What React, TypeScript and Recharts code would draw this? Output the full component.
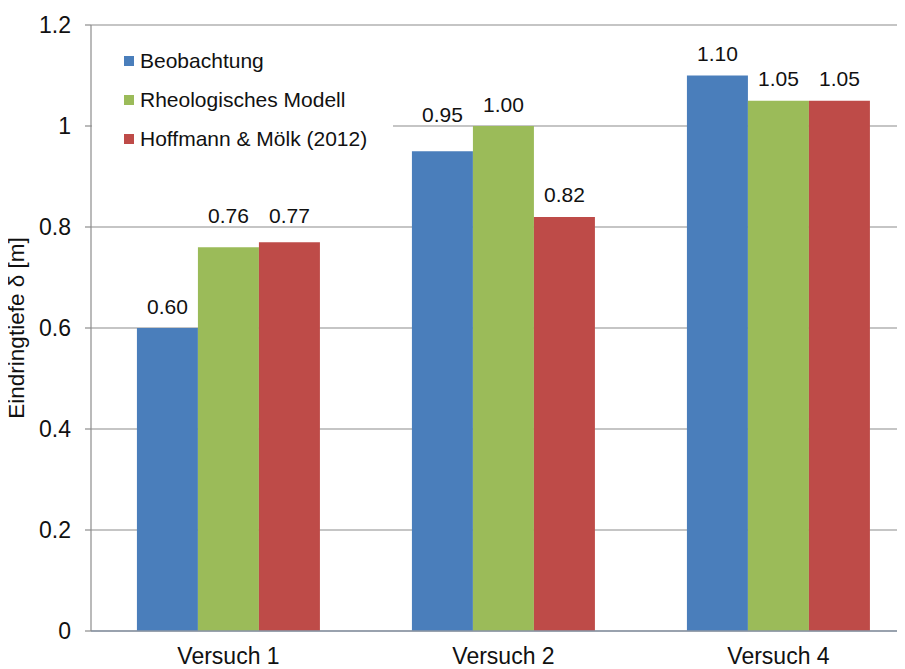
import { Bar, BarChart, CartesianGrid, LabelList, Legend, XAxis, YAxis } from "recharts";

const categories = ["Versuch 1", "Versuch 2", "Versuch 4"];
const seriesNames = ["Beobachtung", "Rheologisches Modell", "Hoffmann & Mölk (2012)"];
const beobachtung = [0.6, 0.95, 1.1];
const rheologisch = [0.76, 1.0, 1.05];
const hoffmann = [0.77, 0.82, 1.05];
const yTicks = [0, 0.2, 0.4, 0.6, 0.8, 1, 1.2];

const FONT = '"Liberation Sans", Arial, sans-serif';
const INK = "#111";
const BLUE = "#4a7ebb";
const GREEN = "#9bbb59";
const RED = "#be4b48";
const GRID = "#8c8c8c";

const data = categories.map((name, i) => ({
  name,
  beobachtung: beobachtung[i],
  rheologisch: rheologisch[i],
  hoffmann: hoffmann[i],
}));

/**
 * Value label above a bar. Labels that would sit on top of a gridline are
 * lifted just above it so the line does not strike through the digits.
 */
function ValueLabel(props: any) {
  const { x, y, width, height, value } = props;
  if (value == null || !height) return null;
  const pxPerUnit = height / value;
  let cy = y - 22;
  for (const g of yTicks) {
    const gy = y + (value - g) * pxPerUnit;
    if (Math.abs(gy - cy) < 11) {
      cy = gy - 12;
      break;
    }
  }
  return (
    <text
      x={x + width / 2}
      y={cy}
      textAnchor="middle"
      dominantBaseline="central"
      fontFamily={FONT}
      fontSize={21}
      fill={INK}
    >
      {Number(value).toFixed(2)}
    </text>
  );
}

// legend keeps the series order instead of recharts' alphabetical sort
function LegendBox({ payload }: any) {
  const items = [...(payload ?? [])].sort(
    (a: any, b: any) => seriesNames.indexOf(a.value) - seriesNames.indexOf(b.value),
  );
  return (
    <div style={{ background: "#fff", width: 301, height: 118, paddingTop: 1, boxSizing: "border-box" }}>
      {items.map((item: any) => (
        <div key={item.value} style={{ display: "flex", alignItems: "center", height: 39, paddingLeft: 32 }}>
          <span style={{ width: 10, height: 10, background: item.color, marginRight: 6, flex: "none" }} />
          <span style={{ fontFamily: FONT, fontSize: 21, color: INK, whiteSpace: "nowrap" }}>{item.value}</span>
        </div>
      ))}
    </div>
  );
}

function AxisTitle({ viewBox }: any) {
  const cx = 8;
  const cy = viewBox.y + viewBox.height / 2;
  return (
    <text
      x={cx}
      y={cy}
      transform={`rotate(-90 ${cx} ${cy})`}
      textAnchor="middle"
      dominantBaseline="central"
      fontFamily={FONT}
      fontSize={22.5}
      fill={INK}
    >
      Eindringtiefe δ [m]
    </text>
  );
}

export default function App() {
  return (
    <div style={{ width: 897, height: 661, overflow: "hidden", background: "#fff" }}>
      <BarChart
        width={930}
        height={661}
        data={data}
        margin={{ top: 17, right: 22, bottom: 0, left: 0 }}
        barCategoryGap="16.7%"
        barGap={0}
      >
        <CartesianGrid vertical={false} stroke={GRID} strokeWidth={1.2} />
        <XAxis
          dataKey="name"
          height={38}
          tickLine={false}
          tickSize={0}
          tickMargin={17}
          stroke="#8a96a6"
          strokeWidth={1.5}
          tick={{ fontFamily: FONT, fontSize: 23, fill: INK }}
        />
        <YAxis
          width={83}
          domain={[0, 1.2]}
          ticks={yTicks}
          interval={0}
          tickSize={6}
          tickMargin={14}
          stroke={GRID}
          strokeWidth={1.2}
          tick={{ fontFamily: FONT, fontSize: 23, fill: INK }}
          label={<AxisTitle />}
        />
        <Legend
          layout="vertical"
          align="center"
          verticalAlign="middle"
          content={<LegendBox />}
          wrapperStyle={{ left: 84, top: 32, width: 301, height: 118 }}
        />
        <Bar dataKey="beobachtung" name={seriesNames[0]} fill={BLUE} isAnimationActive={false}>
          <LabelList dataKey="beobachtung" content={<ValueLabel />} />
        </Bar>
        <Bar dataKey="rheologisch" name={seriesNames[1]} fill={GREEN} isAnimationActive={false}>
          <LabelList dataKey="rheologisch" content={<ValueLabel />} />
        </Bar>
        <Bar dataKey="hoffmann" name={seriesNames[2]} fill={RED} isAnimationActive={false}>
          <LabelList dataKey="hoffmann" content={<ValueLabel />} />
        </Bar>
      </BarChart>
    </div>
  );
}
